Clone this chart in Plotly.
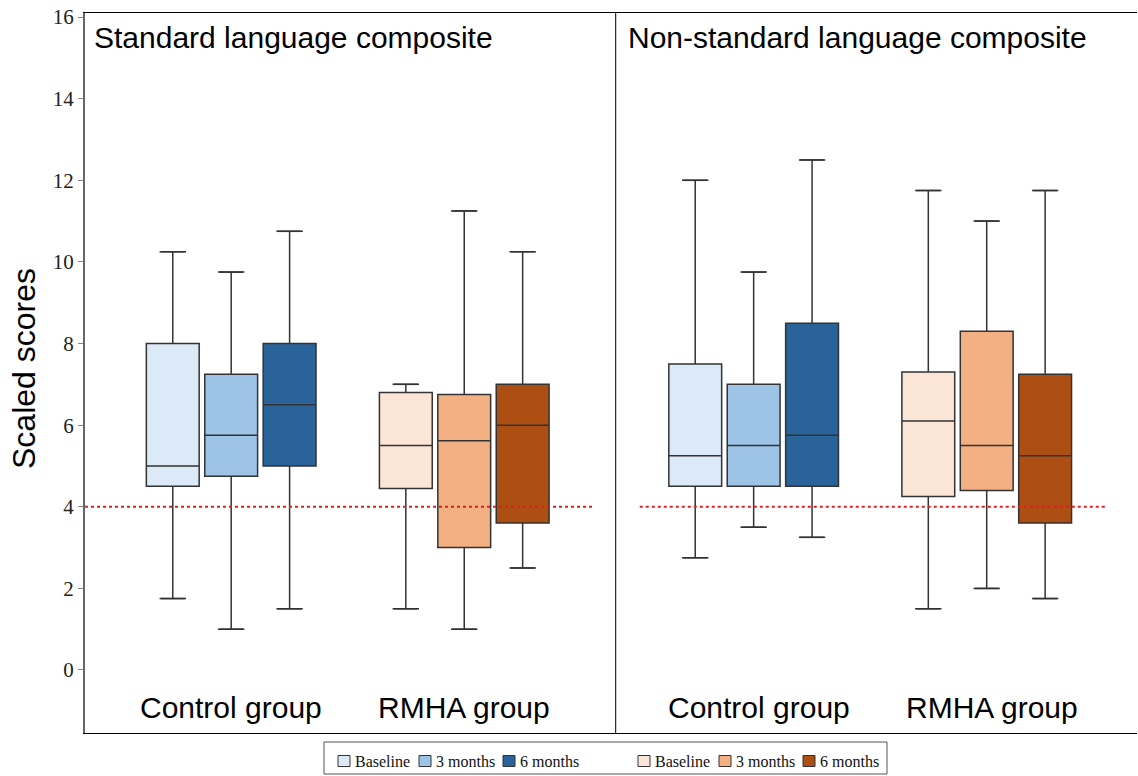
import plotly.graph_objects as go

# ---------------- data ----------------
panels = ["Standard language composite", "Non-standard language composite"]
groups = ["Control group", "RMHA group"]
timepoints = ["Baseline", "3 months", "6 months"]

# each list: [standard, non-standard]
control_baseline_low = [1.75, 2.75]
control_baseline_q1 = [4.5, 4.5]
control_baseline_med = [5.0, 5.25]
control_baseline_q3 = [8.0, 7.5]
control_baseline_high = [10.25, 12.0]

control_3m_low = [1.0, 3.5]
control_3m_q1 = [4.75, 4.5]
control_3m_med = [5.75, 5.5]
control_3m_q3 = [7.25, 7.0]
control_3m_high = [9.75, 9.75]

control_6m_low = [1.5, 3.25]
control_6m_q1 = [5.0, 4.5]
control_6m_med = [6.5, 5.75]
control_6m_q3 = [8.0, 8.5]
control_6m_high = [10.75, 12.5]

rmha_baseline_low = [1.5, 1.5]
rmha_baseline_q1 = [4.45, 4.25]
rmha_baseline_med = [5.5, 6.1]
rmha_baseline_q3 = [6.8, 7.3]
rmha_baseline_high = [7.0, 11.75]

rmha_3m_low = [1.0, 2.0]
rmha_3m_q1 = [3.0, 4.4]
rmha_3m_med = [5.62, 5.5]
rmha_3m_q3 = [6.75, 8.3]
rmha_3m_high = [11.25, 11.0]

rmha_6m_low = [2.5, 1.75]
rmha_6m_q1 = [3.6, 3.6]
rmha_6m_med = [6.0, 5.25]
rmha_6m_q3 = [7.0, 7.25]
rmha_6m_high = [10.25, 11.75]

threshold = 4
y_ticks = [0, 2, 4, 6, 8, 10, 12, 14, 16]

blue_colors = ["#dce9f6", "#9dc3e6", "#2a6399"]
orange_colors = ["#fbe5d6", "#f3b083", "#ad4f12"]

series = [
    (0, 0, control_baseline_low, control_baseline_q1, control_baseline_med, control_baseline_q3, control_baseline_high),
    (0, 1, control_3m_low, control_3m_q1, control_3m_med, control_3m_q3, control_3m_high),
    (0, 2, control_6m_low, control_6m_q1, control_6m_med, control_6m_q3, control_6m_high),
    (1, 0, rmha_baseline_low, rmha_baseline_q1, rmha_baseline_med, rmha_baseline_q3, rmha_baseline_high),
    (1, 1, rmha_3m_low, rmha_3m_q1, rmha_3m_med, rmha_3m_q3, rmha_3m_high),
    (1, 2, rmha_6m_low, rmha_6m_q1, rmha_6m_med, rmha_6m_q3, rmha_6m_high),
]

# ---------------- layout geometry ----------------
W, H = 1138, 776
M_L, M_R, M_T, M_B = 85, 1, 13, 43
PW, PH = W - M_L - M_R, H - M_T - M_B

panel_offset = 8.9          # box offset of second panel (x units)
label_offset = 8.99         # group-label offset of second panel
separator_x = 9.04          # panel divider
group_centers = [2.49, 6.46]
slot = 0.995
box_width = 0.9
x_max = 17.92
y_range = [-1.544, 16.1]
threshold_spans = [(0.0, 8.64), (9.45, 17.38)]
edge = "#333333"


def px_x(px):
    return (px - M_L) / PW


def px_y(py):
    return (H - M_B - py) / PH


fig = go.Figure()

for g, t, low, q1, med, q3, high in series:
    xs = [p * panel_offset + group_centers[g] + (t - 1) * slot for p in range(len(panels))]
    color = (blue_colors if g == 0 else orange_colors)[t]
    fig.add_trace(go.Box(
        x=xs, q1=q1, median=med, q3=q3, lowerfence=low, upperfence=high,
        fillcolor=color, line=dict(color=edge, width=1.5), width=box_width,
        boxpoints=False, showlegend=False, hoverinfo="skip",
    ))
    fig.add_trace(go.Scatter(
        x=xs + xs, y=list(low) + list(high), mode="markers",
        marker=dict(symbol="line-ew", size=17, line=dict(width=1.5, color=edge)),
        showlegend=False, hoverinfo="skip",
    ))

# threshold lines
for x0, x1 in threshold_spans:
    fig.add_shape(type="line", xref="x", yref="y", x0=x0, x1=x1, y0=threshold, y1=threshold,
                  line=dict(color="#dd1f1f", width=2, dash="dot"))

# panel separator
fig.add_shape(type="line", xref="x", yref="paper", x0=separator_x, x1=separator_x, y0=0, y1=1,
              line=dict(color="black", width=1))

sans = "Liberation Sans, Arial, sans-serif"
serif = "Liberation Serif, Times New Roman, serif"
title_x = [0.12, separator_x + 0.18]
for p, title in enumerate(panels):
    fig.add_annotation(x=title_x[p], y=15.5, xref="x", yref="y", text=title,
                       showarrow=False, xanchor="left", yanchor="middle",
                       font=dict(family=sans, size=30, color="black"))
    for g, gname in enumerate(groups):
        fig.add_annotation(x=p * label_offset + group_centers[g], y=-0.93, xref="x", yref="y",
                           text=gname, showarrow=False, xanchor="center", yanchor="middle",
                           font=dict(family=sans, size=30, color="black"))

fig.add_annotation(x=px_x(24), y=px_y(369), xref="paper", yref="paper", text="Scaled scores",
                   textangle=-90, showarrow=False, xanchor="center", yanchor="middle",
                   font=dict(family=sans, size=32, color="black"))

# ---------------- legend (boxed, two colour groups) ----------------
legend_box_px = (324, 742, 887, 774)
legend_square_px = [338, 419, 503, 638, 719, 803]
legend_cy = 761
fig.add_shape(type="rect", xref="paper", yref="paper",
              x0=px_x(legend_box_px[0]), x1=px_x(legend_box_px[2]),
              y0=px_y(legend_box_px[1]), y1=px_y(legend_box_px[3]),
              line=dict(color="#555", width=1), fillcolor="white")
legend_colors = blue_colors + orange_colors
legend_names = timepoints + timepoints
for sx, col, name in zip(legend_square_px, legend_colors, legend_names):
    fig.add_shape(type="rect", xref="paper", yref="paper",
                  x0=px_x(sx), x1=px_x(sx + 12), y0=px_y(legend_cy - 5.5), y1=px_y(legend_cy + 5.5),
                  line=dict(color=edge, width=1), fillcolor=col)
    fig.add_annotation(x=px_x(sx + 15), y=px_y(legend_cy), xref="paper", yref="paper",
                       text=name, showarrow=False, xanchor="left", yanchor="middle",
                       font=dict(family=serif, size=16, color="#111"))

fig.update_layout(
    width=W, height=H,
    margin=dict(l=M_L, r=M_R, t=M_T, b=M_B),
    paper_bgcolor="white", plot_bgcolor="white",
    showlegend=False,
    xaxis=dict(range=[0, x_max], showgrid=False, zeroline=False, showticklabels=False,
               ticks="", showline=True, mirror=True, linecolor="black", linewidth=1),
    yaxis=dict(range=y_range, tickvals=y_ticks, showgrid=False, zeroline=False,
               ticks="outside", ticklen=5, tickcolor="#888", showline=True, linecolor="#666",
               linewidth=2, mirror=False,
               tickfont=dict(family=serif, size=21, color="#222")),
)

fig.write_html("out.html")
